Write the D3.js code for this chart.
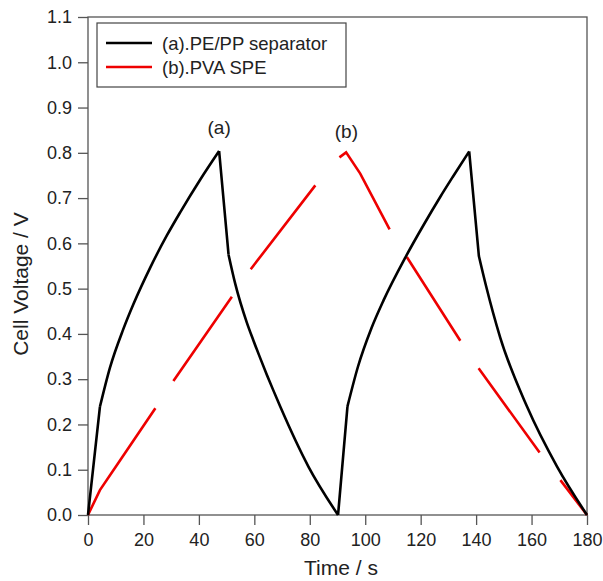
<!DOCTYPE html>
<html>
<head>
<meta charset="utf-8">
<script src="https://cdn.jsdelivr.net/npm/d3@7"></script>
<style>
  body { margin: 0; background: #fff; }
  svg { display: block; font-family: "Liberation Sans", Arial, sans-serif; }
  .axis text { font-size: 18px; fill: #222; }
  .axis line { stroke: #555; stroke-width: 1.3; }
</style>
</head>
<body>
<svg width="603" height="581"></svg>
<script>
// values
var blackTime = [0, 4.3, 7.9, 12.7, 16.4, 22.4, 28.5, 33.2, 40.4, 47.3,
                 50.7, 53.1, 57.3, 59.7, 69.3, 79.5, 90.2,
                 93.6, 97.4, 102.2, 106.6, 114.4, 121.0, 127.1, 131.5, 137.5,
                 141.0, 143.5, 148.7, 158.4, 169.2, 180];
var blackVolt = [0, 0.239, 0.325, 0.410, 0.466, 0.546, 0.618, 0.668, 0.740, 0.804,
                 0.575, 0.511, 0.425, 0.385, 0.24, 0.107, 0,
                 0.240, 0.328, 0.412, 0.474, 0.568, 0.640, 0.703, 0.746, 0.803,
                 0.572, 0.508, 0.392, 0.239, 0.107, 0];
// indices where the black trace has a sharp corner
var blackCorners = [0, 1, 9, 10, 16, 17, 25, 26, 31];

// red trace has breaks in it (null = no data)
var redTime = [0, 4.3, 11.6, 24.3, 27.5, 30.8, 51.9, 55.3, 58.7, 82.0, 86.0,
               90.7, 93.1, 98.2, 108.8, 112.0, 115.0, 134.3, 137.6, 140.9, 162.9,
               166.6, 170.4, 180];
var redVolt = [0, 0.055, 0.121, 0.236, null, 0.296, 0.482, null, 0.543, 0.728, null,
               0.790, 0.801, 0.754, 0.631, null, 0.570, 0.385, null, 0.324, 0.138,
               null, 0.077, 0];

var xTicks = [0, 20, 40, 60, 80, 100, 120, 140, 160, 180];
var yTicks = [0, 0.1, 0.2, 0.3, 0.4, 0.5, 0.6, 0.7, 0.8, 0.9, 1.0, 1.1];
var seriesNames = ["(a).PE/PP separator", "(b).PVA SPE"];
var seriesColours = ["#000", "#ee0000"];
var peakLabels = ["(a)", "(b)"];
var peakLabelTime = [47.3, 93.2];
var peakLabelVolt = [0.842, 0.833];

var svg = d3.select("svg");

var xScale = d3.scaleLinear().domain([0, 180]).range([88, 587]);
var yScale = d3.scaleLinear().domain([0, 1.1]).range([515, 17]);

// axes
svg.append("g").attr("class", "x axis")
    .attr("transform", "translate(0,515)")
    .call(d3.axisBottom(xScale).tickValues(xTicks).tickSize(10).tickPadding(8)
        .tickFormat(d3.format("d")))
    .call(g => g.select(".domain").remove());

svg.append("g").attr("class", "y axis")
    .attr("transform", "translate(88,0)")
    .call(d3.axisLeft(yScale).tickValues(yTicks).tickSize(10).tickPadding(6)
        .tickFormat(d3.format(".1f")))
    .call(g => g.select(".domain").remove());

// frame
svg.append("rect")
    .attr("x", xScale(0)).attr("y", yScale(1.1))
    .attr("width", xScale(180) - xScale(0))
    .attr("height", yScale(0) - yScale(1.1))
    .attr("fill", "none").attr("stroke", "#555").attr("stroke-width", 1.3);

// axis titles
svg.append("text")
    .attr("x", 341).attr("y", 575)
    .attr("text-anchor", "middle")
    .style("font-size", "21px").style("fill", "#222")
    .text("Time / s");

svg.append("text")
    .attr("transform", "translate(28,284) rotate(-90)")
    .attr("text-anchor", "middle")
    .style("font-size", "21px").style("fill", "#222")
    .text("Cell Voltage / V");

// lines
var blackData = blackTime.map((t, i) => ({t: t, v: blackVolt[i]}));
var redData = redTime.map((t, i) => ({t: t, v: redVolt[i]}));

var line = d3.line()
    .defined(d => d.v !== null)
    .x(d => xScale(d.t))
    .y(d => yScale(d.v));

var smoothLine = d3.line()
    .x(d => xScale(d.t))
    .y(d => yScale(d.v))
    .curve(d3.curveMonotoneX);

svg.append("path")
    .datum(redData)
    .attr("d", line)
    .attr("fill", "none")
    .attr("stroke", seriesColours[1])
    .attr("stroke-width", 2.6);

// black: smooth pieces between the sharp corners
var blackPieces = [];
for (var k = 0; k < blackCorners.length - 1; k++) {
    blackPieces.push(blackData.slice(blackCorners[k], blackCorners[k + 1] + 1));
}
svg.append("path")
    .attr("d", blackPieces.map(p => smoothLine(p)).join(""))
    .attr("fill", "none")
    .attr("stroke", seriesColours[0])
    .attr("stroke-width", 2.6)
    .attr("stroke-linejoin", "round");

// peak labels
svg.selectAll(".peak")
    .data(peakLabels)
    .enter()
    .append("text")
    .attr("class", "peak")
    .attr("x", (d, i) => xScale(peakLabelTime[i]))
    .attr("y", (d, i) => yScale(peakLabelVolt[i]))
    .attr("text-anchor", "middle")
    .style("font-size", "19px").style("fill", "#222")
    .text(d => d);

// legend
var legend = svg.append("g")
    .attr("class", "legend")
    .attr("transform", "translate(97,23)");

legend.append("rect")
    .attr("width", 249).attr("height", 64)
    .attr("fill", "#fff").attr("stroke", "#444").attr("stroke-width", 1.2);

var legendItem = legend.selectAll(".item")
    .data(seriesNames)
    .enter()
    .append("g")
    .attr("class", "item")
    .attr("transform", (d, i) => `translate(0, ${20 + i * 24})`);

legendItem.append("line")
    .attr("x1", 9).attr("x2", 55)
    .attr("y1", 0).attr("y2", 0)
    .attr("stroke", (d, i) => seriesColours[i])
    .attr("stroke-width", 2.6);

legendItem.append("text")
    .attr("x", 65).attr("y", 7)
    .style("font-size", "18.5px").style("fill", "#222")
    .text(d => d);
</script>
</body>
</html>
